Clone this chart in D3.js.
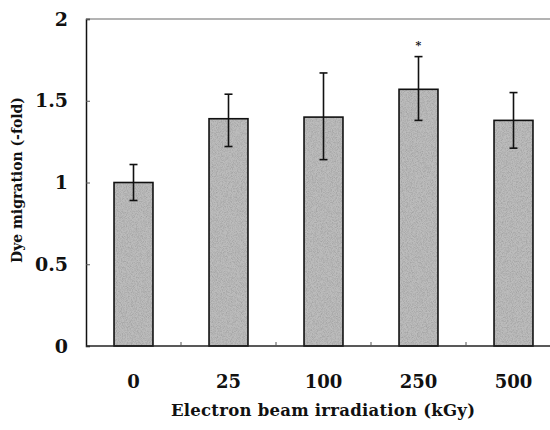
<!DOCTYPE html>
<html>
<head>
<meta charset="utf-8">
<script src="https://cdn.jsdelivr.net/npm/d3@7"></script>
<style>
  body { margin: 0; background: #fff; }
  svg text { font-family: "DejaVu Serif", "Liberation Serif", serif; font-weight: bold; fill: #111; }
</style>
</head>
<body>
<div id="chart"></div>
<script>
// chart values
const doses = ["0", "25", "100", "250", "500"];
const means = [1.00, 1.39, 1.40, 1.57, 1.38];
const errUp = [0.11, 0.15, 0.27, 0.20, 0.17];
const errDown = [0.11, 0.17, 0.26, 0.19, 0.17];
const stars = ["", "", "", "*", ""];
const yTicks = [0, 0.5, 1, 1.5, 2];

const width = 550, height = 430;
const margin = {top: 19, right: -11, bottom: 84, left: 86};

const svg = d3.select("#chart").append("svg")
    .attr("width", width)
    .attr("height", height);

// grainy gray fill like the scanned bars
const defs = svg.append("defs");
const f = defs.append("filter").attr("id", "grain")
    .attr("x", 0).attr("y", 0).attr("width", 1).attr("height", 1);
f.append("feTurbulence").attr("type", "fractalNoise")
    .attr("baseFrequency", 1.2).attr("numOctaves", 1).attr("seed", 3).attr("result", "n");
f.append("feColorMatrix").attr("in", "n").attr("type", "matrix")
    .attr("values", "0 0 0 0 0.35  0 0 0 0 0.35  0 0 0 0 0.35  2.2 0 0 0 -0.85")
    .attr("result", "g");
f.append("feComposite").attr("in", "g").attr("in2", "SourceGraphic").attr("operator", "in").attr("result", "gi");
f.append("feMerge").call(m => {
    m.append("feMergeNode").attr("in", "SourceGraphic");
    m.append("feMergeNode").attr("in", "gi");
});

const x = d3.scaleBand()
    .domain(doses)
    .range([margin.left, width - margin.right])
    .paddingInner(0)
    .paddingOuter(0);

const y = d3.scaleLinear()
    .domain([0, 2])
    .range([height - margin.bottom, margin.top]);

const barW = x.bandwidth() * 0.41;

// frame top
svg.append("line")
    .attr("x1", margin.left).attr("x2", width)
    .attr("y1", y(2)).attr("y2", y(2))
    .attr("stroke", "#9a9a9a").attr("stroke-width", 1.5);

// bars
svg.append("g").selectAll("rect")
    .data(doses)
    .join("rect")
    .attr("x", d => x(d) + (x.bandwidth() - barW) / 2)
    .attr("y", (d, i) => y(means[i]))
    .attr("width", barW)
    .attr("height", (d, i) => y(0) - y(means[i]))
    .attr("fill", "#bcbcbc")
    .attr("filter", "url(#grain)");
svg.append("g").selectAll("rect")
    .data(doses)
    .join("rect")
    .attr("x", d => x(d) + (x.bandwidth() - barW) / 2)
    .attr("y", (d, i) => y(means[i]))
    .attr("width", barW)
    .attr("height", (d, i) => y(0) - y(means[i]))
    .attr("fill", "none")
    .attr("stroke", "#111")
    .attr("stroke-width", 1.6);

// error bars
const eb = svg.append("g").attr("stroke", "#111").attr("stroke-width", 1.6);
doses.forEach((d, i) => {
    const cx = x(d) + x.bandwidth() / 2;
    const top = y(means[i] + errUp[i]), bot = y(means[i] - errDown[i]);
    eb.append("line").attr("x1", cx).attr("x2", cx).attr("y1", top).attr("y2", bot);
    eb.append("line").attr("x1", cx - 4).attr("x2", cx + 4).attr("y1", top).attr("y2", top);
    eb.append("line").attr("x1", cx - 4).attr("x2", cx + 4).attr("y1", bot).attr("y2", bot);
});

// significance marks
svg.append("g").selectAll("text")
    .data(doses)
    .join("text")
    .attr("x", d => x(d) + x.bandwidth() / 2)
    .attr("y", (d, i) => y(means[i] + errUp[i]) - 8)
    .attr("text-anchor", "middle")
    .attr("font-size", 11)
    .text((d, i) => stars[i]);

// y axis
const yAxis = svg.append("g")
    .attr("transform", `translate(${margin.left},0)`)
    .call(d3.axisLeft(y).tickValues(yTicks).tickFormat(d3.format("")).tickSize(-4).tickPadding(18));
yAxis.select(".domain").attr("stroke", "#111").attr("stroke-width", 1.5);
yAxis.selectAll(".tick line").attr("stroke", "#555");
yAxis.selectAll("text").attr("font-size", 19).attr("fill", "#111").style("font-family", null);

// x axis: ticks at band edges
const xAxisG = svg.append("g")
    .attr("transform", `translate(0,${y(0)})`);
xAxisG.append("line")
    .attr("x1", margin.left).attr("x2", width)
    .attr("stroke", "#222").attr("stroke-width", 1.5);
xAxisG.selectAll(".edge")
    .data(doses.slice(1))
    .join("line")
    .attr("x1", d => x(d)).attr("x2", d => x(d))
    .attr("y1", 0).attr("y2", -4)
    .attr("stroke", "#555");
xAxisG.selectAll(".lab")
    .data(doses)
    .join("text")
    .attr("x", d => x(d) + x.bandwidth() / 2)
    .attr("y", 42)
    .attr("text-anchor", "middle")
    .attr("font-size", 18)
    .text(d => d);

// axis titles
svg.append("text")
    .attr("x", 323)
    .attr("y", 416)
    .attr("text-anchor", "middle")
    .attr("font-size", 16.5)
    .attr("textLength", 304)
    .text("Electron beam irradiation (kGy)");

svg.append("text")
    .attr("transform", "translate(22,180) rotate(-90)")
    .attr("text-anchor", "middle")
    .attr("font-size", 14)
    .attr("textLength", 166)
    .text("Dye migration (-fold)");
</script>
</body>
</html>
